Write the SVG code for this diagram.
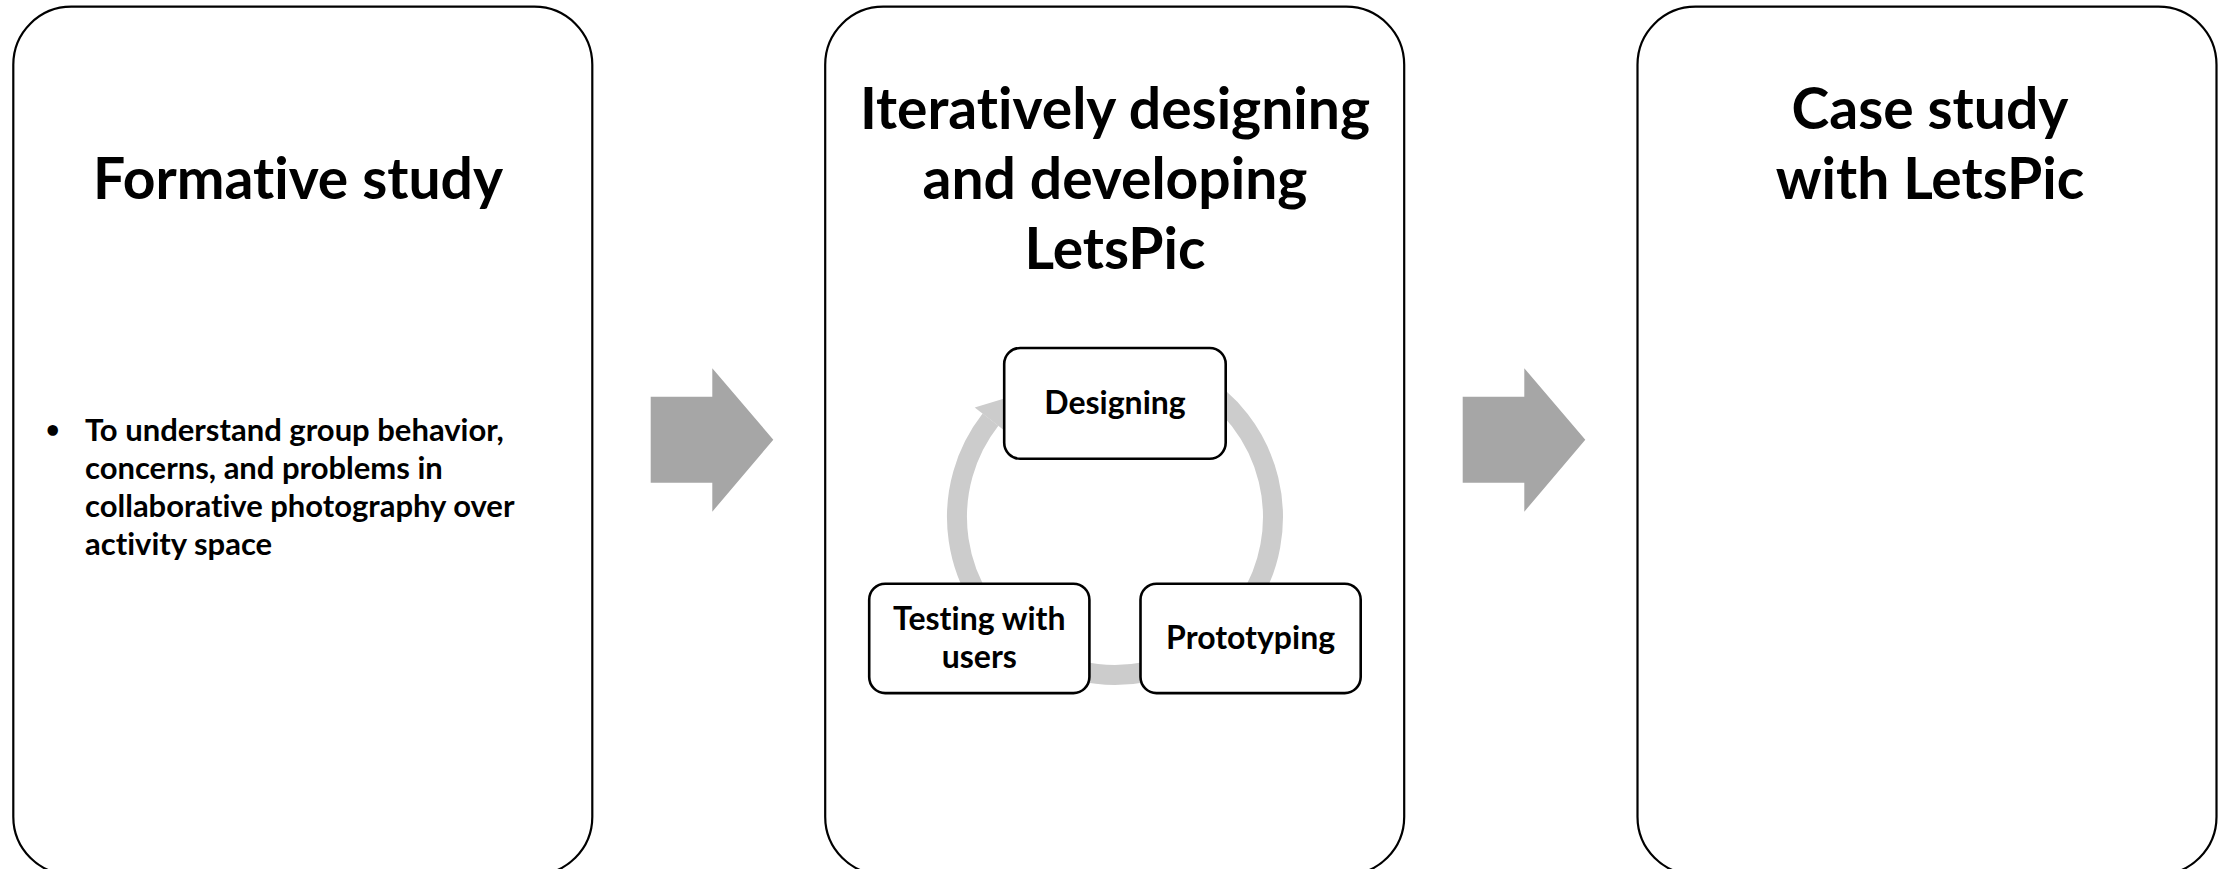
<svg xmlns="http://www.w3.org/2000/svg" width="2227" height="869" viewBox="0 0 2227 869">
  <style>
    text { font-variant-ligatures: none; font-feature-settings: "liga" 0, "dlig" 0; }
    .panel { fill: #ffffff; stroke: #000000; stroke-width: 2.2; }
    .box { fill: #ffffff; stroke: #000000; stroke-width: 2.6; }
    .title { font-family: Lato, "Open Sans", sans-serif; font-weight: 700; font-size: 57px; fill: #000000; text-anchor: middle; }
    .boxtext { font-family: Lato, "Open Sans", sans-serif; font-weight: 700; font-size: 32px; fill: #000000; text-anchor: middle; }
    .bullet { font-family: Lato, "Open Sans", sans-serif; font-weight: 700; font-size: 31px; fill: #000000; }
    .dot { font-family: Lato, "Open Sans", sans-serif; font-weight: 700; font-size: 24px; fill: #000000; text-anchor: middle; }
    .block { fill: #a6a6a6; }
    .ring { fill: none; stroke: #cccccc; stroke-width: 20; }
    .ringhead { fill: #cccccc; }
  </style>
  <rect width="2227" height="869" fill="#ffffff"/>

  <g id="panel-formative">
    <rect class="panel" x="13.3" y="6.7" width="579" height="868" rx="58" ry="58"/>
    <text class="title" x="298" y="199">Formative study</text>
    <text class="dot" x="52.7" y="438">•</text>
    <text class="bullet" x="85" y="441">To understand group behavior,</text>
    <text class="bullet" x="85" y="479">concerns, and problems in</text>
    <text class="bullet" x="85" y="517">collaborative photography over</text>
    <text class="bullet" x="85" y="555">activity space</text>
  </g>

  <g id="panel-iterative">
    <rect class="panel" x="825.2" y="6.7" width="579" height="868" rx="58" ry="58"/>
    <text class="title" x="1115" y="129">Iteratively designing</text>
    <text class="title" x="1115" y="199">and developing</text>
    <text class="title" x="1115" y="269">LetsPic</text>
  </g>

  <g id="panel-case">
    <rect class="panel" x="1637.5" y="6.7" width="579" height="868" rx="58" ry="58"/>
    <text class="title" x="1930" y="129">Case study</text>
    <text class="title" x="1930" y="199">with LetsPic</text>
  </g>

  <g id="connectors">
    <polygon class="block" points="650.7,396.7 712.3,396.7 712.3,368.3 773.3,439.7 712.3,511.7 712.3,482.7 650.7,482.7"/>
    <polygon class="block" points="1462.7,396.7 1524.3,396.7 1524.3,368.3 1585.3,439.7 1524.3,511.7 1524.3,482.7 1462.7,482.7"/>
    <path class="ring" d="M 1194 380.2 A 158 158 0 1 1 990.5 419.7"/>
    <polygon class="ringhead" points="974.7,407.4 1007.7,397.6 1006.3,432"/>
  </g>

  <g id="node-designing">
    <rect class="box" x="1004.2" y="348" width="221.5" height="110.8" rx="16" ry="16"/>
    <text class="boxtext" x="1115" y="414">Designing</text>
  </g>

  <g id="node-prototyping">
    <rect class="box" x="1140.5" y="583.7" width="220.2" height="109.4" rx="16" ry="16"/>
    <text class="boxtext" x="1250.6" y="649">Prototyping</text>
  </g>

  <g id="node-testing">
    <rect class="box" x="869.2" y="583.7" width="220.2" height="109.4" rx="16" ry="16"/>
    <text class="boxtext" x="979.3" y="630">Testing with</text>
    <text class="boxtext" x="979.3" y="668">users</text>
  </g>
</svg>
